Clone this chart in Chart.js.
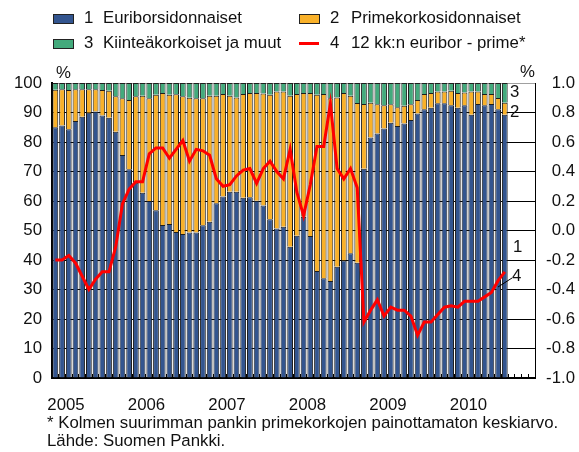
<!DOCTYPE html>
<html lang="fi">
<head>
<meta charset="UTF-8">
<title>Asuntolainat viitekoroittain</title>
<script src="https://cdn.jsdelivr.net/npm/chart.js"></script>
<style>
  body { margin: 0; background: #fff; font-family: 'Liberation Sans', Arial, sans-serif; color: #111; }
  .wrap { position: relative; width: 579px; height: 452px; overflow: hidden; }
  canvas { position: absolute; left: 0; top: 0; }
  .t { position: absolute; font-size: 16.8px; line-height: 18px; white-space: nowrap; }
  .key { position: absolute; width: 19px; height: 8px; border: 1px solid #222; }
  .redkey { position: absolute; width: 20px; height: 3px; background: #ff0000; }
  .note { position: absolute; left: 47px; font-size: 16.8px; line-height: 18px; white-space: nowrap; }
</style>
</head>
<body>
<div class="wrap">
  <canvas id="chart" width="579" height="452"></canvas>

  <div class="key" style="left:53px; top:14px; background:#33558f;"></div>
  <div class="t" style="left:84px; top:9px;">1</div>
  <div class="t" style="left:103px; top:9px;">Euriborsidonnaiset</div>
  <div class="key" style="left:299px; top:14px; background:#f9b12a;"></div>
  <div class="t" style="left:330px; top:9px;">2</div>
  <div class="t" style="left:351px; top:9px;">Primekorkosidonnaiset</div>

  <div class="key" style="left:53px; top:39px; background:#43aa7c;"></div>
  <div class="t" style="left:84px; top:34px;">3</div>
  <div class="t" style="left:103px; top:34px;">Kiinteäkorkoiset ja muut</div>
  <div class="redkey" style="left:299px; top:42px;"></div>
  <div class="t" style="left:330px; top:34px;">4</div>
  <div class="t" style="left:351px; top:34px;">12 kk:n euribor - prime*</div>

  <div class="t" style="left:56px; top:64px;">%</div>
  <div class="t" style="left:520px; top:63px;">%</div>

  <div class="t" style="left:510px; top:83px;">3</div>
  <div class="t" style="left:510px; top:103px;">2</div>
  <div class="t" style="left:513px; top:238px;">1</div>
  <div class="t" style="left:512px; top:267px;">4</div>
  <svg style="position:absolute; left:0; top:0;" width="579" height="452">
    <line x1="498" y1="287" x2="512" y2="278" stroke="#000" stroke-width="1"/>
  </svg>

  <div class="note" style="top:414px;">* Kolmen suurimman pankin primekorkojen painottamaton keskiarvo.</div>
  <div class="note" style="top:432px;">Lähde: Suomen Pankki.</div>
</div>

<script>
  // kuukaudet 2005-01 ... 2010-12
  const years = [2005, 2006, 2007, 2008, 2009, 2010];
  const months = [];
  years.forEach(y => { for (let m = 1; m <= 12; m++) months.push(y + '-' + String(m).padStart(2, '0')); });

  // osuudet lainakannasta, % (2005-01 ... 2010-08)
  const euribor = [
    85.0, 85.6, 84.3, 87.1, 88.6, 89.9, 90.3, 89.0, 88.2, 83.5, 75.6, 70.8,
    66.2, 62.8, 60.0, 56.9, 51.9, 52.2, 49.5, 48.8, 49.3, 49.3, 51.8, 53.0,
    59.2, 61.5, 63.1, 63.1, 61.1, 61.3, 60.1, 58.5, 53.8, 50.7, 51.3, 44.5,
    48.2, 54.7, 48.1, 36.3, 33.8, 32.9, 37.7, 39.8, 42.3, 39.1, 70.9, 81.5,
    82.9, 84.6, 86.5, 85.4, 86.3, 87.5, 89.7, 91.1, 91.6, 93.1, 93.1, 92.5,
    91.6, 92.5, 89.2, 92.9, 92.5, 92.9, 91.1, 89.2
  ];
  const prime = [
    12.7, 12.3, 13.3, 10.8, 9.3, 8.0, 7.6, 8.6, 9.2, 12.0, 19.2, 23.4,
    29.3, 32.9, 34.8, 39.1, 44.7, 43.8, 46.7, 46.7, 45.7, 45.5, 43.0, 42.7,
    36.5, 34.8, 32.6, 32.0, 35.2, 35.3, 36.5, 37.9, 42.2, 46.4, 45.8, 51.2,
    48.1, 41.9, 48.5, 59.7, 62.5, 61.9, 57.4, 56.8, 53.4, 54.1, 22.0, 11.8,
    9.9, 7.9, 6.3, 6.4, 6.0, 5.3, 4.5, 5.2, 5.0, 4.0, 4.0, 4.9,
    5.0, 4.3, 7.9, 4.2, 3.8, 3.4, 3.8, 4.1
  ];
  const fixed = [
    2.3, 2.1, 2.4, 2.1, 2.1, 2.1, 2.1, 2.4, 2.6, 4.5, 5.2, 5.8,
    4.5, 4.3, 5.2, 4.0, 3.4, 4.0, 3.8, 4.5, 5.0, 5.2, 5.2, 4.3,
    4.3, 3.7, 4.3, 4.9, 3.7, 3.4, 3.4, 3.6, 4.0, 2.9, 2.9, 4.3,
    3.7, 3.4, 3.4, 4.0, 3.7, 5.2, 4.9, 3.4, 4.3, 6.8, 7.1, 6.7,
    7.2, 7.5, 7.2, 8.2, 7.7, 7.2, 5.8, 3.7, 3.4, 2.9, 2.9, 2.6,
    3.4, 3.2, 2.9, 2.9, 3.7, 3.7, 5.1, 6.7
  ];
  // 12 kk euribor - prime, %-yks.
  const spread = [
    -0.20, -0.20, -0.17, -0.22, -0.31, -0.40, -0.33, -0.28, -0.28, -0.11, 0.18, 0.28,
    0.33, 0.33, 0.52, 0.56, 0.56, 0.49, 0.55, 0.61, 0.47, 0.55, 0.54, 0.51,
    0.35, 0.30, 0.31, 0.37, 0.41, 0.42, 0.32, 0.42, 0.47, 0.40, 0.35, 0.55,
    0.26, 0.10, 0.31, 0.57, 0.57, 0.86, 0.42, 0.35, 0.42, 0.29, -0.62, -0.54,
    -0.47, -0.58, -0.52, -0.54, -0.54, -0.58, -0.71, -0.62, -0.62, -0.57, -0.52, -0.51,
    -0.52, -0.48, -0.48, -0.48, -0.45, -0.42, -0.34, -0.28
  ];

  const font = { family: "'Liberation Sans', Arial, sans-serif", size: 16.8 };
  const barStyle = { borderColor: '#1e1e1e', borderWidth: 1, barPercentage: 0.86, categoryPercentage: 1, yAxisID: 'y', order: 1 };

  new Chart(document.getElementById('chart'), {
    type: 'bar',
    data: {
      labels: months,
      datasets: [
        { label: 'Euriborsidonnaiset', data: euribor, backgroundColor: '#33558f', ...barStyle },
        { label: 'Primekorkosidonnaiset', data: prime, backgroundColor: '#f9b12a', ...barStyle },
        { label: 'Kiinteäkorkoiset ja muut', data: fixed, backgroundColor: '#43aa7c', ...barStyle },
        {
          type: 'line', label: '12 kk:n euribor - prime*', data: spread, yAxisID: 'y2', order: 0,
          borderColor: '#ff0000', borderWidth: 3, pointRadius: 0, tension: 0
        }
      ]
    },
    options: {
      responsive: false,
      animation: false,
      layout: { padding: { top: 83, left: 0, right: 4, bottom: 0 } },
      plugins: { legend: { display: false }, tooltip: { enabled: false } },
      scales: {
        x: {
          stacked: true,
          afterFit: s => { s.height = 74; },
          grid: { drawOnChartArea: false, drawTicks: true, tickLength: -4, color: '#000' },
          border: { color: '#000', width: 2 },
          ticks: {
            autoSkip: false, maxRotation: 0, align: 'start', labelOffset: -8, padding: 21,
            color: '#111', font: font,
            callback: (v, i) => i % 12 === 0 ? String(years[i / 12]) : ''
          }
        },
        y: {
          stacked: true, position: 'left', min: 0, max: 100,
          afterFit: s => { s.width = 52; },
          grid: { color: c => c.tick && c.tick.value === 100 ? '#a0a0a0' : '#000', drawTicks: false },
          border: { color: '#000', width: 2 },
          ticks: { stepSize: 10, padding: 10, color: '#111', font: font }
        },
        y2: {
          position: 'right', min: -1, max: 1,
          afterFit: s => { s.width = 40; },
          grid: { drawOnChartArea: false, drawTicks: false },
          border: { color: '#000', width: 1 },
          ticks: {
            stepSize: 0.2, crossAlign: 'far', color: '#111', font: font,
            callback: v => (Math.abs(v) < 1e-9 ? 0 : v).toFixed(1)
          }
        }
      }
    }
  });
</script>
</body>
</html>
